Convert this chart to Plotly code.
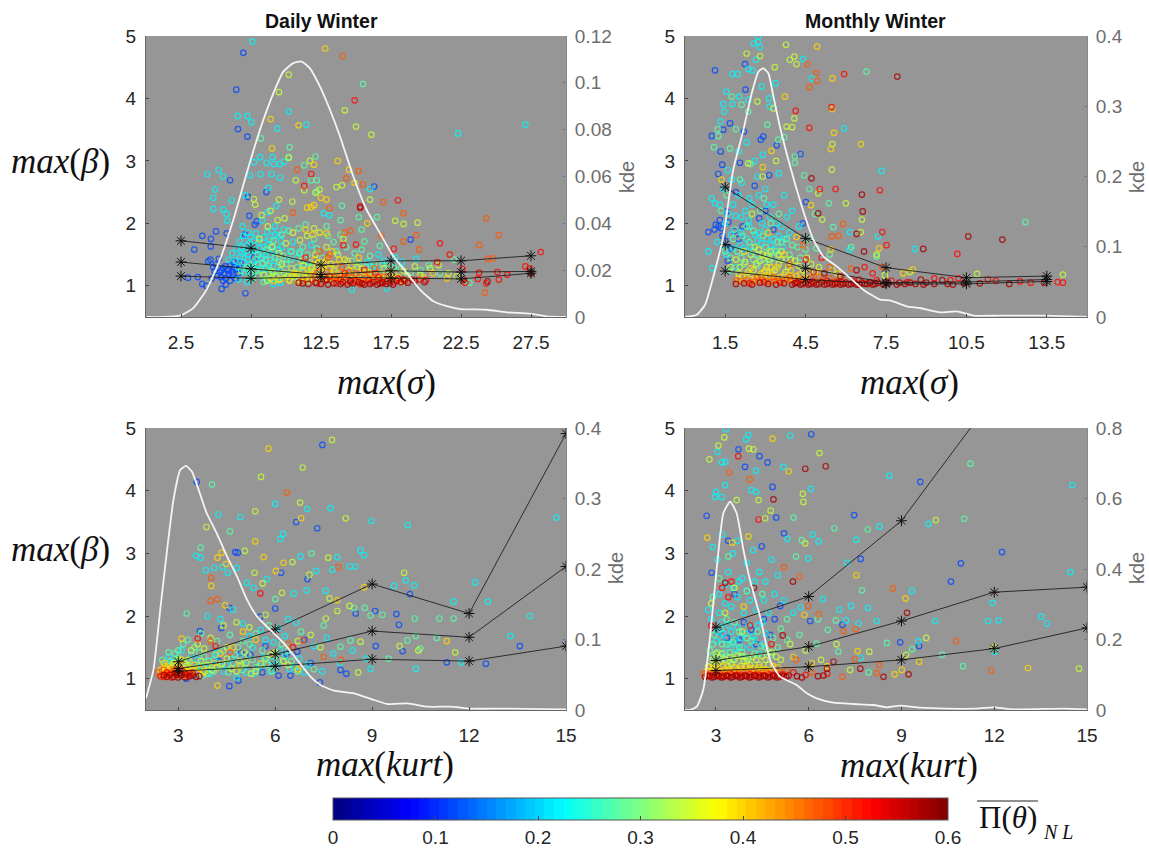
import plotly.graph_objects as go

W, H = 1149, 849
LEVELS = [0.12, 0.22, 0.28, 0.34, 0.40, 0.47, 0.52, 0.58]

# ---------- Panel 1: Daily Winter, max(sigma) ----------
P1_TICKS = [2.5, 7.5, 12.5, 17.5, 22.5, 27.5]
P1_UP = [1.72, 1.60, 1.33, 1.40, 1.40, 1.48]
P1_MID = [1.38, 1.27, 1.18, 1.24, 1.22, 1.23]
P1_LOW = [1.155, 1.12, 1.14, 1.12, 1.11, 1.20]
P1_KX = [0.05,1.24,2.43,3.38,4.33,5.29,6.24,7.19,8.14,9.1,9.81,10.52,11.12,11.71,12.43,13.14,13.86,14.81,15.76,16.71,17.67,18.62,19.57,20.52,21.48,22.43,24.33,25.76,27.43,28.62,30]
P1_KY = [0,0,.0006,.0038,.0117,.0245,.0415,.0614,.0799,.0956,.1048,.1084,.1091,.1062,.0984,.0885,.0771,.06,.0458,.0358,.0259,.0188,.0117,.0067,.0046,.0034,.0031,.002,.0014,.0003,0]
P1_C12 = [(6.95,4.73),(6.45,4.14),(6.57,3.51),(7.24,3.39),(6.0,2.69),(4.02,1.80),(5.0,1.87),(3.45,1.58),(4.64,1.75),(18.9,1.74),(16.3,2.59),(7.1,.88),(5.4,.95),(4.02,1.03),(4.45,1.39),(4.62,1.63),(5.76,1.84),(7.07,1.82),(7.78,1.98),(7.38,2.12),(3.0,1.13),(3.7,1.14),(4.8,1.3),(5.3,1.22),(5.6,1.2),(5.9,1.25),(6.2,1.18),(5.1,1.16),(5.7,1.12),(6.5,1.27),(6.0,1.08),(5.2,1.43),(7.7,1.45),(6.3,1.3),(5.8,1.26),(4.9,1.23),(5.5,1.28),(6.1,1.22),(5.4,1.25),(5.9,1.19),(6.6,1.2),(7.9,2.03),(8.6,2.5),(7.3,2.42),(4.3,1.0),(5.7,1.02),(4.7,1.12),(5.0,1.34),(5.35,1.14),(5.65,1.31),(6.05,1.33),(6.4,1.12),(6.75,1.36),(4.6,1.42),(5.5,1.08),(6.25,1.38)]
P1_C22 = [(7.6,4.91),(6.55,3.72),(7.24,3.72),(7.52,3.62),(10.2,3.79),(9.38,3.52),(11.45,3.58),(22.3,3.44),(27.1,3.58),(4.38,2.79),(5.19,2.85),(5.5,2.75),(4.93,2.54),(4.81,2.41),(4.81,2.23),(5.52,2.22),(5.76,2.15),(5.8,2.04),(6.12,2.37),(7.07,2.45),(7.43,2.77),(8.19,2.79),(8.97,2.79),(8.14,3.06),(7.71,2.98),(8.62,2.97),(9.05,3.06),(9.14,2.95),(9.57,2.95),(9.86,2.99),(8.74,2.57),(9.57,2.73),(14.7,.94),(17.2,.96),(16,2.55),(13.1,2.13),(12.7,2.16),(6.8,1.62),(7.1,1.55),(7.4,1.68),(7.7,1.72),(8.1,1.6),(8.4,1.77),(8.7,1.66),(9.0,1.88),(9.2,1.95),(9.5,1.8),(6.4,1.4),(6.7,1.47),(7.0,1.38),(7.3,1.5),(7.6,1.33),(7.9,1.42),(8.2,1.28),(8.5,1.48),(8.8,1.36),(9.1,1.55),(9.4,1.3),(9.7,1.62),(10.1,1.42),(10.5,1.7),(11,1.55),(7.0,1.22),(7.5,1.18),(6.6,1.1),(7.2,1.06),(8.6,1.1),(9.1,1.03),(9.6,1.05),(8.3,2.05),(8.7,2.18),(9.3,2.28),(6.9,1.95),(7.3,1.85),(17,1.4),(17.8,1.45),(18.3,1.38),(19.3,1.43),(16.2,1.3),
    (5.9,1.42),(6.15,1.52),(6.45,1.6),(6.7,1.72),(6.95,1.8),(7.2,1.64),(7.45,1.78),(7.65,1.57),(7.85,1.84),(8.05,1.7),(8.25,1.52),(8.45,1.62),(8.65,1.86),(8.85,1.74),(9.05,1.63),(9.25,1.82),(9.45,1.58),(9.65,1.72),(9.85,1.9),(8.0,1.34),(8.3,1.44),(8.6,1.28),(8.9,1.5),(9.2,1.4),(7.25,1.42),(7.55,1.28),(7.8,1.56),(6.55,1.3),(6.85,1.52),(7.15,1.28),(10.3,1.55),(10.8,1.45),(11.3,1.35),(11.8,1.65),(15.8,1.38),(16.6,1.5),(17.2,1.25)]
P1_C28 = [(8.2,3.36),(10.26,3.22),(11.3,2.93),(12.1,3.07),(10.2,3.06),(12.2,2.51),(11.8,2.69),(12.2,2.69),(15.5,4.23),(13.9,2.05),(14,2.28),(15.2,2.1),(15.4,1.9),(16.5,2.1),(15.6,1.71),(16.7,1.64),(22,1.42),(23.1,1.05),(13.9,1.82),(7.8,1.25),(8.3,1.36),(8.8,1.2),(9.2,1.45),(9.6,1.25),(10,1.35),(10.4,1.55),(10.8,1.3),(11.2,1.62),(11.6,1.38),(12,1.75),(12.4,1.85),(12.9,1.95),(13.4,1.7),(14.3,1.62),(14.9,1.52),(15.4,1.58),(16,1.48),(8.0,1.5),(8.6,1.58),(9.1,1.72),(9.7,1.82),(10.2,1.88),(7.2,1.3),(6.8,1.24),(7.6,1.1),(8.4,1.06),(10.9,1.92),(11.4,1.98),(17.4,1.32),(18.2,1.28),(18.9,1.2),(19.6,1.25),(20.2,1.33),(21,1.2),
    (7.4,1.2),(7.7,1.38),(8.0,1.16),(8.25,1.24),(8.55,1.42),(8.75,1.32),(9.0,1.24),(9.3,1.14),(9.5,1.38),(9.8,1.48),(10.05,1.2),(10.35,1.42),(10.65,1.14),(10.95,1.52),(11.25,1.22),(11.55,1.5),(11.85,1.3),(12.2,1.6),(12.6,1.45),(13,1.8),(13.6,1.55),(14.7,1.4),(15.2,1.35),(15.7,1.3),(16.3,1.35),(16.9,1.35),(17.7,1.3)]
P1_C34 = [(10.2,4.38),(9.5,4.1),(15,3.55),(16.1,3.42),(14.2,3.81),(11.7,3),(10.2,3.05),(10.7,2.69),(11.3,2.53),(12.1,2.49),(12.4,2.54),(10.45,2.35),(9.5,2.38),(7.7,2.39),(7.8,2.3),(8.26,2.13),(8.9,2.2),(9.9,2.08),(13.6,2.58),(14,2.61),(16,2.38),(17.8,2.04),(18.4,1.99),(19.4,2.01),(8.4,1.18),(8.9,1.12),(9.3,1.16),(9.7,1.35),(10.1,1.15),(10.4,1.28),(10.8,1.18),(11.1,1.4),(11.4,1.12),(11.8,1.28),(12.1,1.5),(12.5,1.22),(12.9,1.62),(13.2,1.35),(13.7,1.5),(14.1,1.75),(14.5,1.25),(9.0,1.62),(9.5,1.52),(10,1.68),(10.5,1.85),(11,1.73),(11.5,1.8),(12,1.92),(16.8,1.2),(17.4,1.18),(18,1.14),(18.7,1.16),(19.2,1.31),(20.3,1.28),(20.9,1.33),(21.6,1.2),(22.2,1.15),(8.1,1.75),(8.7,1.95),(9.4,2.05),
    (8.65,1.08),(9.05,1.22),(9.45,1.1),(9.85,1.2),(10.25,1.08),(10.55,1.2),(10.95,1.1),(11.25,1.32),(11.65,1.18),(12.0,1.1),(12.3,1.36),(12.7,1.28),(13.0,1.14),(13.45,1.24),(13.85,1.12),(14.2,1.42),(14.8,1.18),(15.1,1.3),(15.5,1.15),(15.9,1.22),(16.4,1.12),(17,1.28),(17.7,1.12),(18.4,1.24),(19.6,1.18)]
P1_C40 = [(12.8,4.8),(8.9,3.67),(10.9,3.57),(9,3.2),(12,2.94),(13.7,3),(14.5,2.86),(11.5,2.25),(11.8,2.26),(12,2.29),(12.5,2.41),(12.9,2.38),(14.9,2.65),(15.8,2),(10.2,1.1),(10.7,1.2),(11.2,1.25),(11.6,1.08),(11.9,1.18),(12.2,1.3),(12.5,1.38),(12.8,1.12),(13.1,1.28),(13.4,1.2),(13.8,1.42),(14,1.1),(14.4,1.4),(9.6,1.1),(9.1,1.08),(11.4,1.9),(12.4,1.85),(11.9,1.82),(12.9,1.84),(13.3,1.55),(15.2,1.45),(15.7,1.22),(16.4,1.18),(17.2,1.1),(18.3,1.08),(19.8,1.14),(21.5,1.12),(20.5,1.2),
    (10.45,1.16),(10.85,1.06),(11.35,1.14),(11.75,1.24),(12.05,1.42),(12.35,1.12),(12.65,1.32),(12.95,1.42),(13.25,1.12),(13.55,1.34),(13.95,1.22),(14.25,1.18),(14.65,1.32),(15,1.12),(15.4,1.28),(16.1,1.12),(16.8,1.14),(17.7,1.2)]
P1_C47 = [(14.05,4.68),(10.8,2.86),(15.2,2.84),(14.3,2.72),(15.5,2.62),(16.95,2.34),(10.5,2.17),(13.1,2.24),(18.4,2.16),(24.3,2.08),(25.2,1.81),(23.8,1.65),(24.8,1.44),(24.4,1.43),(24.2,.89),(18.4,1.71),(19.5,1.58),(19.3,1.81),(16.8,1.8),(11.9,1.1),(12.3,1.22),(12.7,1.15),(13,1.45),(13.3,1.08),(13.6,1.16),(14,1.3),(14.3,1.06),(14.7,1.13),(15,1.2),(15.4,1.08),(15.8,1.13),(16.3,1.28),(16.7,1.1),(17.3,1.23),(14.2,1.85),(14.6,1.88),(13.1,1.5),(12.4,1.55),
    (11.2,1.08),(12.05,1.16),(12.55,1.06),(12.9,1.22),(13.45,1.14),(13.8,1.07),(14.15,1.14),(14.5,1.22),(14.9,1.08),(15.25,1.14),(15.65,1.06),(16.0,1.18),(16.5,1.07),(17,1.14),(17.5,1.1),(18.1,1.1)]
P1_C52 = [(14.9,3.97),(11.8,2.79),(11.3,2.6),(15.3,2.27),(18,2.37),(21,1.68),(21.7,1.5),(28.2,1.54),(27.1,1.31),(27.4,1.28),(25.2,1.1),(24.3,1.04),(23.7,1.11),(25.8,1.18),(25.1,1.22),(23.8,1.21),(22.8,1.05),(22.6,1.27),(20.8,1.38),(20,1.09),(19.5,1.1),(17.7,1.59),(14.1,1.65),(15,1.66),(13.6,1.04),(14.6,1.05),(15.3,1.03),(16.1,1.05),(16.9,1.04),(17.7,1.06),(18.5,1.08),(19,1.1),(16.4,1.2),(13.1,1.15),(14.2,1.2),(15.6,1.25),(11.4,1.45),(12.2,1.04),(12.8,1.08),(13.9,1.1),(15.0,1.07),(15.9,1.09),(16.6,1.14),(17.2,1.07),(18.0,1.12)]
P1_C58 = [(15.3,2.25),(11.2,1.04),(11.6,1.03),(12.1,1.05),(12.5,1.03),(13,1.02),(13.4,1.04),(13.9,1.03),(14.4,1.02),(14.8,1.04),(15.2,1.06),(15.6,1.02),(16,1.03),(16.5,1.02),(16.9,1.06),(17.4,1.04),(17.9,1.08),(18.4,1.1),(19.2,1.08),(19.9,1.06),(22.7,1.1),(27.5,1.2),(24.4,1.07),(10.9,1.05),(12.9,1.1),(14.05,1.06),(14.6,1.08),(15.45,1.04),(16.25,1.06),(16.7,1.04),(17.15,1.03),(17.65,1.02),(18.2,1.06),(18.7,1.05)]

# ---------- Panel 2: Monthly Winter, max(sigma) ----------
P2_TICKS = [1.5, 4.5, 7.5, 10.5, 13.5]
P2_UP = [2.58, 1.76, 1.29, 1.13, 1.155]
P2_MID = [1.66, 1.28, 1.05, 1.06, 1.10]
P2_LOW = [1.235, 1.10, 1.03, 1.03, 1.07]
P2_KX = [0,.44,.75,1.06,1.43,1.80,2.18,2.49,2.74,2.92,3.11,3.30,3.54,3.79,4.10,4.48,4.79,5.16,5.66,6.16,6.65,7.28,7.65,8.27,8.77,9.52,10.14,10.76,11.75,13.5,15]
P2_KY = [0,.0033,.0175,.0578,.1147,.2095,.2664,.3185,.3493,.354,.347,.3138,.2711,.2332,.1905,.1431,.11,.0863,.072,.0555,.0389,.0246,.0237,.0152,.0128,.0066,.0081,.0019,.0019,.0019,0]
P2_C12 = [(1.0,3.4),(2.24,4.55),(2.26,4.14),(2.2,3.47),(1.43,3.5),(1.33,3.15),(1.39,2.94),(1.24,2.79),(.87,1.86),(2.83,3.34),(2.92,3.39),(3.42,3.25),(4.31,3.11),(3.14,2.77),(4.51,2.34),(2.77,2.08),(1.68,3.6),(2.05,2.97),(1.12,4.45),(1.25,1.95),(1.55,2.19),(1.1,1.9),(1.4,1.8),(1.3,2.05),(1.7,1.6),(2,1.75),(1.6,1.4),(4.4,2.0),(3.3,1.9),(1.9,2.5),(3,2.2),(2.6,2.6),(1.15,1.98),(1.35,1.92),(1.5,1.72),(1.62,2.02),(1.85,1.88),(2.15,1.95)]
P2_C22 = [(2.73,4.99),(2.57,4.88),(2.73,4.9),(2.8,4.82),(2.65,4.62),(2.36,4.47),(2.52,4.45),(1.77,4.39),(1.96,4.39),(1.54,4.11),(2.02,4.03),(2.36,3.98),(1.43,3.91),(1.77,3.91),(1.46,3.79),(1.33,3.63),(4.41,4.63),(4.74,4.32),(5.94,3.52),(2.86,4.19),(3.38,4.24),(3.14,4),(3.17,3.87),(7.34,2.84),(8.58,1.59),(7.2,1.79),(6.15,1.86),(6.15,1.58),(.87,1.55),(1.02,1.28),(.99,2.4),(1.12,2.32),(1.2,1.7),(1.5,2.0),(1.8,2.3),(2.1,2.1),(2.4,2.4),(2.7,2.75),(3,2.55),(3.3,2.3),(2.1,1.85),(2.4,1.95),(2.7,1.72),(3,1.9),(1.6,2.85),(2,3.15),(2.3,3.3),(2.6,3),(2.9,3.1),(3.7,2.45),(3.5,2.8),(2.55,1.55),(2.2,1.6),(1.9,1.3),(2.75,1.85),(3.2,1.65),(3.5,1.8),(3.8,2.1),(1.45,2.55),(1.75,2.7),(4,2.2),(4.25,1.95),
    (1.3,2.3),(1.45,1.65),(1.6,2.15),(1.72,1.82),(1.88,2.12),(2.0,2.45),(2.12,2.65),(2.25,2.2),(2.38,2.05),(2.5,2.3),(2.62,1.82),(2.75,2.45),(2.88,2.0),(3.05,2.3),(3.18,2.1),(3.3,1.75),(3.42,2.0),(3.6,1.95),(3.72,1.75),(3.9,1.85),(1.55,1.5),(1.8,1.6),(2.05,1.65),(2.3,1.75),(2.45,1.62),(2.85,1.68),(3.05,1.75),(3.35,1.58),(3.65,1.62)]
P2_C28 = [(6.77,4.43),(1.74,4.03),(2.11,3.9),(2.36,3.79),(1.22,3.51),(1.24,3.4),(1.08,3.22),(1.68,3.2),(1.9,3.51),(3.07,3.58),(3.48,3.34),(3.7,3.38),(4.1,3.07),(4.1,2.97),(4.45,2.77),(4.64,2.55),(5.37,2.32),(4.85,2.15),(12.7,2.02),(7.15,1.47),(5.53,1.94),(1.5,1.55),(1.8,1.75),(2.1,1.45),(2.4,1.7),(2.7,1.5),(3,1.62),(3.3,1.45),(3.6,1.7),(3.9,1.5),(4.2,1.62),(1.65,1.25),(2.3,1.95),(2.8,2.2),(3.2,2.0),(3.5,2.15),(1.35,2.2),(1.55,2.45),(2.05,2.7),(2.45,2.95),(2.95,2.4),(4.6,1.75),(4.9,1.6),(5.4,1.5),(6.2,1.62),
    (1.7,1.45),(1.95,1.55),(2.2,1.35),(2.55,1.42),(2.7,1.32),(2.9,1.42),(3.15,1.38),(3.4,1.55),(3.75,1.42),(4.0,1.65),(4.3,1.45),(4.5,1.58),(1.85,1.9),(2.15,1.8),(2.55,1.88),(2.9,1.8),(3.1,1.52),(3.45,1.7),(3.8,1.75)]
P2_C34 = [(2.3,4.72),(3.77,4.86),(4.08,4.67),(3.91,4.62),(4.16,4.55),(3.35,4.5),(2.8,4.68),(2.7,3.95),(4.08,3.68),(3.79,3.55),(4,3.54),(3.3,3.84),(2.36,2.96),(5.5,3.27),(5.48,2.86),(4.97,2.48),(6,2.32),(6.6,2.06),(6.56,1.86),(5.12,2.06),(7.15,1.5),(7.46,1.17),(8.4,1.22),(14.1,1.18),(10.9,1.19),(1.7,1.3),(2,1.2),(2.25,1.38),(2.55,1.25),(2.8,1.4),(3.05,1.3),(3.35,1.25),(3.6,1.42),(3.85,1.3),(4.1,1.4),(4.4,1.25),(4.7,1.35),(2.2,1.55),(2.6,1.62),(2.9,1.5),(3.2,1.55),(3.5,1.5),(5.0,1.3),(5.5,1.25),(2.5,2.15),(2.9,2.75),(3.4,3.0),
    (1.9,1.42),(2.05,1.3),(2.35,1.22),(2.45,1.5),(2.65,1.35),(2.95,1.22),(3.15,1.42),(3.25,1.22),(3.5,1.35),(3.75,1.22),(3.95,1.42),(4.25,1.32),(4.55,1.45),(4.85,1.22),(2.75,1.58),(3.05,1.48),(3.6,1.55)]
P2_C40 = [(4.93,4.83),(5.5,4.32),(5.49,3.83),(3.73,4.03),(5.56,3.45),(5.44,3.19),(6.56,3.27),(3.23,3.16),(1.36,2.7),(4.7,2.29),(4.16,1.78),(5.44,1.58),(7.24,1.6),(8.5,1.26),(8.14,1.2),(2,1.12),(2.3,1.18),(2.6,1.12),(2.85,1.2),(3.1,1.15),(3.4,1.1),(3.7,1.18),(4,1.13),(4.3,1.18),(4.6,1.2),(5,1.22),(5.7,1.2),(3.2,1.3),(3.7,1.5),(2.9,2.9),(3.1,1.85),(2.15,1.15),(2.45,1.1),(2.75,1.15),(2.95,1.12),(3.25,1.18),(3.55,1.14),(3.85,1.1),(4.15,1.16),(4.45,1.12),(2.45,1.28),(3,1.25),(3.45,1.3),(3.95,1.25)]
P2_C47 = [(4.57,4.55),(4.9,4.41),(4.93,4.28),(4.64,4.18),(5.9,1.99),(5.47,1.79),(5.72,1.8),(7.36,1.3),(6.2,1.28),(5.4,1.3),(1.9,1.08),(2.3,1.09),(2.6,1.06),(2.9,1.1),(3.2,1.06),(3.5,1.08),(3.8,1.1),(4.1,1.07),(4.4,1.1),(4.7,1.12),(5,1.14),(5.4,1.12),(5.9,1.1),(4.4,1.65),(3.9,1.35),(2.1,1.07),(2.45,1.06),(2.75,1.08),(3.05,1.07),(3.35,1.08),(3.65,1.07),(3.95,1.09),(4.25,1.08),(4.55,1.06),(4.85,1.08),(5.15,1.09),(5.65,1.08),(2.7,1.14),(3.3,1.14),(3.9,1.14)]
P2_C52 = [(5.94,4.39),(4.13,3.8),(4.64,3.53),(5.47,3.86),(5.62,2.55),(7.27,2.53),(7.52,1.65),(7.36,1.86),(10.16,1.51),(5.03,2.55),(6.7,1.3),(7,1.2),(7.7,1.08),(8.3,1.06),(9.3,1.12),(9.9,1.09),(10.2,1.12),(11.3,1.1),(11.6,1.08),(12.5,1.07),(12.9,1.05),(13.9,1.06),(14.1,1.05),(5.6,1.05),(6.3,1.08),(6.9,1.06),(4.8,1.22),(4.5,1.42),(5.1,1.45),(2.4,1.04),(2.95,1.06),(3.55,1.05),(4.15,1.05),(4.75,1.07),(5.3,1.08),(5.85,1.06),(6.5,1.1),(7.15,1.09)]
P2_C58 = [(7.92,4.35),(6.6,2.46),(6.63,2.19),(6.4,1.83),(4.72,2.72),(4.97,2.16),(10.57,1.79),(11.84,1.74),(8.89,1.59),(6.68,1.55),(1.9,1.03),(2.2,1.04),(2.5,1.02),(2.8,1.05),(3.1,1.03),(3.4,1.02),(3.7,1.04),(4,1.02),(4.2,1.05),(4.4,1.03),(4.6,1.02),(4.8,1.05),(5,1.03),(5.2,1.02),(5.4,1.05),(5.6,1.03),(5.8,1.02),(6,1.05),(6.2,1.03),(6.4,1.02),(6.6,1.05),(6.8,1.03),(7,1.02),(7.2,1.05),(7.4,1.02),(7.6,1.04),(7.9,1.02),(8.2,1.03),(8.6,1.03),(8.9,1.02),(9.3,1.03),(9.6,1.09),(10,1.02),(10.4,1.04),(11,1.04),(12.1,1.03),(13.4,1.05),(5.2,1.2),(5.8,1.15),(6.4,1.25),(8.8,1.1),(4.1,1.04),(4.3,1.02),(4.5,1.05),(4.7,1.03),(4.9,1.02),(5.1,1.06),(5.3,1.03),(5.5,1.02),(5.7,1.05),(5.9,1.03),(6.1,1.02),(6.3,1.05),(6.5,1.02),(6.7,1.03),(6.9,1.05),(7.1,1.03),(7.5,1.06),(8.0,1.05),(8.4,1.05),(9.0,1.05),(9.8,1.03)]

# ---------- Panel 3: Daily Winter, max(kurt) ----------
P3_TICKS = [3, 6, 9, 12, 15]
P3_UP = [1.27, 1.79, 2.51, 2.04, 4.91]
P3_MID = [1.16, 1.39, 1.76, 1.66, 2.79]
P3_LOW = [1.12, 1.20, 1.31, 1.28, 1.52]
P3_KX = [2.0,2.23,2.44,2.64,2.85,3.06,3.24,3.42,3.63,3.88,4.19,4.51,4.82,5.13,5.44,5.85,6.27,6.68,7.09,7.4,7.82,8.44,9.06,9.47,10.1,10.72,11.44,12.06,13.2,15]
P3_KY = [.0166,.0568,.1419,.2223,.298,.3406,.3462,.3382,.3122,.2791,.2507,.2176,.1892,.1561,.1324,.1135,.0946,.071,.0473,.0355,.0274,.0237,.0142,.0085,.0095,.0047,.0047,.0019,.0019,.001]
P3_C12 = [(7.46,4.73),(3.57,4.14),(6.65,3.5),(7.3,3.4),(4.84,3.01),(4.76,3.02),(6.18,2.69),(7,2.59),(10.17,2.35),(4.58,2.13),(9.75,2.03),(8.49,2.04),(9.83,1.86),(4.33,1.81),(3.67,1.76),(9.11,1.52),(9.94,1.44),(13.57,1.52),(12.52,1.24),(11.31,1.26),(8.2,1.08),(8.02,1.14),(6.47,1.05),(4.86,.97),(4.58,.88),(7.38,.94),(5.23,1.38),(6.68,1.43),(5.54,1.99),(6,2.12),(9.09,2.08),(3.25,1.0),(6.1,1.05),(7.1,1.25),(5.6,1.1),(4.95,1.42),(5.7,1.52),(6.35,1.4),(6.9,1.62),(4.25,1.28)]
P3_C22 = [(14.7,3.57),(10.1,3.45),(8.98,3.52),(7.71,3.72),(6.99,3.71),(6,3.79),(4.92,3.58),(4.24,3.62),(6.16,3.23),(6.24,3.31),(3.55,2.96),(3.69,2.93),(3.85,2.73),(4.11,2.77),(4.37,2.78),(4.81,2.77),(4.53,2.69),(6.78,2.95),(7.92,2.94),(8.31,2.79),(8.48,2.79),(7.77,2.74),(7.27,2.72),(8.64,3.05),(8.75,2.97),(5.74,2.59),(5.33,2.45),(5.12,2.53),(6.57,2.36),(6.97,2.41),(7.56,2.4),(10.04,2.57),(10.3,2.49),(9.68,2.48),(12.19,2.54),(12.58,2.23),(11.52,2.23),(13.89,2.0),(13.28,1.68),(10.35,1.16),(11.75,1.26),(8.95,1.16),(2.8,1.25),(3.1,1.02),(3.5,1.05),(4,1.08),(4.4,1.12),(4.8,1.02),(5.1,1.1),(5.5,1.2),(5.9,1.28),(6.3,1.35),(6.6,1.18),(6.9,1.1),(7.2,1.52),(7.6,1.65),(8,1.25),(8.4,1.45),(8.8,1.32),(5.7,1.62),(6.1,1.8),(6.4,1.95),(4.5,1.22),(4.9,1.35),(5.3,1.5),(4.1,1.3),(3.7,1.2),(3.4,1.38),(3.1,1.45),(4.3,1.95),(4.7,2.1),(5,1.88),(3.9,2.0),
    (3.6,1.3),(3.95,1.18),(4.2,1.42),(4.65,1.32),(5.05,1.22),(5.35,1.08),(5.65,1.34),(5.85,1.12),(6.05,1.22),(6.15,1.45),(6.45,1.15),(6.75,1.32),(7.0,1.22),(7.45,1.12),(7.8,1.4),(5.2,1.68),(5.55,1.78),(5.95,1.58),(6.3,1.68),(6.65,1.9),(3.3,1.18),(2.95,1.32),(2.7,1.35)]
P3_C28 = [(4.04,4.1),(7.12,3),(4.6,3.35),(3.69,3.09),(3.26,2.04),(6,2.27),(8.44,2.13),(8.77,2.13),(8.95,2.01),(9.32,2.02),(10.32,1.96),(11.08,1.96),(11.52,1.96),(11,1.65),(10.35,1.68),(10.09,1.61),(10.49,1.48),(9.51,1.32),(8.33,1.61),(8.02,1.51),(2.5,1.3),(2.9,1.4),(3.2,1.25),(3.5,1.5),(3.8,1.35),(4.1,1.12),(4.4,1.45),(4.7,1.25),(5,1.14),(5.3,1.3),(5.6,1.45),(5.9,1.12),(6.2,1.55),(6.5,1.28),(6.8,1.75),(7.2,1.15),(7.5,1.85),(3.3,1.62),(3.7,1.72),(4.2,1.6),(4.6,1.7),(5,1.6),(5.4,1.72),(5.8,1.85),(3.9,1.08),(3.4,1.12),
    (2.75,1.28),(3.05,1.32),(3.35,1.28),(3.55,1.18),(3.75,1.05),(3.95,1.28),(4.15,1.38),(4.3,1.2),(4.55,1.1),(4.75,1.38),(4.95,1.22),(5.15,1.38),(5.4,1.18),(5.75,1.22),(6.1,1.3),(6.4,1.45),(6.7,1.12),(3.65,1.42),(3.0,1.45),(2.7,1.42),(3.15,1.55),(4.85,1.5),(5.2,1.55)]
P3_C34 = [(5.56,4.22),(6.85,4.37),(7.76,4.81),(6.77,3.81),(5.38,3.67),(8.18,3.56),(3.87,3.42),(5.06,3.04),(7.64,2.93),(6.53,2.86),(7.06,2.66),(5.36,2.69),(5.61,2.52),(6.21,2.37),(9.99,2.69),(7.68,2.28),(8.3,2.16),(7.92,2.08),(7.57,1.96),(8.64,1.59),(9.85,1.52),(10.43,1.45),(11.57,1.42),(8.57,1.1),(2.6,1.15),(2.9,1.2),(3.3,1.3),(3.6,1.1),(3.9,1.22),(4.2,1.18),(4.5,1.32),(4.8,1.12),(5.1,1.25),(5.4,1.12),(5.7,1.32),(6,1.42),(6.4,1.22),(6.7,1.6),(7.1,1.7),(7.4,1.5),(3.6,1.55),(4,1.65),(4.4,1.85),(4.8,1.9),(5.2,1.82),(5.7,2.02),(3.2,1.05),
    (2.85,1.25),(3.1,1.12),(3.25,1.2),(3.45,1.15),(3.7,1.28),(3.8,1.1),(4.05,1.14),(4.35,1.24),(4.65,1.16),(4.9,1.28),(5.25,1.08),(5.55,1.24),(5.85,1.38),(6.25,1.28),(3.4,1.45),(3.8,1.48),(4.5,1.5),(5.05,1.42),(3.0,1.3)]
P3_C40 = [(5.79,4.67),(6.8,3.56),(5.38,3.19),(5.64,2.94),(4.34,3.01),(4.21,2.93),(6.26,2.85),(6.02,2.72),(4.48,2.83),(4.02,2.48),(4.45,2.17),(3.1,1.64),(7.92,2.25),(11.31,1.6),(8.75,2.46),(4.21,.89),(2.5,1.08),(2.6,1.2),(2.75,1.13),(2.85,1.22),(3,1.16),(3.15,1.1),(3.3,1.18),(3.5,1.22),(3.8,1.12),(4.3,1.4),(4.7,1.5),(5,1.75),(5.4,1.62),(6.7,1.15),(2.7,1.05),(4.9,1.2),(2.45,1.14),(2.55,1.25),(2.65,1.16),(2.8,1.18),(2.9,1.12),(3.05,1.22),(3.2,1.14),(3.4,1.12),(3.65,1.16),(4.1,1.25),(2.95,1.05),(3.1,1.3)]
P3_C47 = [(6.36,3.97),(4.02,2.61),(4.21,2.27),(7.95,2.78),(4,2.24),(6.85,1.61),(7.5,1.35),(8.04,1.3),(2.35,1.1),(2.55,1.14),(2.75,1.08),(2.95,1.1),(3.1,1.14),(3.3,1.06),(4,1.6),(4.6,1.42),(6.4,1.55),(2.5,1.06),(2.65,1.09),(2.85,1.15),(3.05,1.17),(3.2,1.08),(3.45,1.1)]
P3_C52 = [(5.54,2.36),(3.6,1.64),(6.55,1.5),(2.55,1.03),(2.8,1.02),(3.05,1.05),(3.25,1.03),(3.45,1.08),(2.65,1.1),(2.9,1.13),(4.15,1.52),(2.45,1.04),(2.7,1.06),(2.95,1.08),(3.15,1.11),(3.35,1.09)]
P3_C58 = [(2.65,1.03),(2.85,1.03),(2.95,1.06),(3.05,1.09),(3.2,1.02),(3.35,1.04),(3.55,1.03),(3.0,1.02),(2.75,1.06),(2.55,1.06),(2.9,1.09),(3.1,1.06),(3.25,1.07),(3.45,1.05),(3.65,1.04)]

# ---------- Panel 4: Monthly Winter, max(kurt) ----------
P4_TICKS = [3, 6, 9, 12, 15]
P4_UP = [1.82, 2.31, 3.52, 5.5, 7.5]
P4_MID = [1.29, 1.51, 1.92, 2.38, 2.46]
P4_LOW = [1.13, 1.19, 1.30, 1.48, 1.81]
P4_KX = [2,2.16,2.38,2.59,2.81,3.02,3.24,3.46,3.67,3.89,4.10,4.43,4.75,5.07,5.61,5.94,6.26,6.80,7.45,8.09,8.53,8.96,9.60,10.47,11.33,11.98,12.62,14.24,15]
P4_KY = [0,0,.0095,.0568,.2081,.3973,.5581,.5913,.5581,.4541,.3689,.2649,.1419,.0946,.0709,.0473,.0331,.0208,.017,.0142,.0076,.0123,.0066,.0038,.0038,.0076,.0019,.0038,.0019]
P4_C12 = [(6.08,4.9),(3.73,4.66),(4.41,4.55),(4.67,4.45),(3.94,4.38),(4.83,4.06),(2.7,3.6),(4.95,3.57),(7.47,3.61),(9.61,4.14),(7.68,2.91),(12.25,3.02),(10.92,2.84),(10.6,2.55),(8.96,1.58),(9.57,1.52),(7.09,1.86),(5.08,2.16),(6.05,1.92),(5.2,3.32),(4.48,3.11),(2.86,2.69),(3.6,2.35),(3.9,1.9),(4.3,1.55),(3.1,1.75),(4.9,1.95),(3.4,3.2),(3.75,1.62),(4.15,1.78),(4.55,1.95),(4.75,1.7),(3.35,1.65)]
P4_C22 = [(3.32,4.98),(5.4,4.88),(4.05,4.89),(3.97,4.82),(3.05,4.62),(3.19,4.45),(3.3,4.46),(4.3,4.32),(5.18,4.38),(8.61,4.24),(14.52,4.09),(3.3,4.09),(3,3.98),(2.97,3.9),(4.14,4.01),(4.3,3.98),(3.19,3.9),(6.07,4.03),(9.88,3.47),(8.29,3.43),(6.13,3.3),(6.32,3.19),(5.31,3.23),(7.54,3.22),(5.99,2.92),(7.23,2.85),(9.34,2.4),(11.95,2.21),(14.46,2.7),(13.52,1.99),(13.71,1.88),(11.8,1.92),(12.14,1.93),(10.09,1.92),(8.2,1.92),(7.61,1.88),(7.21,1.93),(7.91,2.13),(7.37,2.16),(6.99,2.1),(6.46,2.27),(5.74,2.14),(9.55,1.6),(12.01,1.43),(7.67,1.33),(2.9,3.1),(3.05,2.9),(3.2,3.3),(3.4,2.7),(3.55,3),(3.7,3.2),(3.85,2.6),(4,2.85),(4.2,3.05),(4.4,2.7),(4.6,2.55),(4.8,2.9),(5,2.65),(3.1,2.35),(3.3,2.5),(3.5,2.15),(3.7,2.3),(3.9,2.05),(4.1,2.25),(4.3,2.1),(4.5,1.9),(4.7,2.05),(5.2,2.25),(5.5,2.05),(3.2,1.9),(3.5,1.75),(3.8,1.65),(4.1,1.5),(4.4,1.4),(2.85,1.95),(2.75,2.1),(3,1.6),(3.3,1.42),
    (3.05,1.75),(3.25,1.72),(3.4,1.85),(3.6,1.62),(3.7,1.82),(3.95,1.72),(4.05,1.85),(4.2,1.68),(4.35,1.85),(4.6,1.72),(3.1,2.05),(3.3,2.2),(3.55,2.45),(3.75,2.55),(4.0,2.4),(4.25,2.55),(4.55,2.25),(4.9,2.35),(3.45,1.55),(3.65,1.48),(3.85,1.5),(4.25,1.62),(4.55,1.55),(3.2,1.62)]
P4_C28 = [(11.23,4.43),(11.03,3.55),(6.83,3.4),(7.91,3.38),(5.51,3.57),(5.78,3.21),(5.59,2.95),(7.72,2.41),(6.62,1.78),(6.88,1.93),(8.53,1.57),(9.34,1.47),(10.31,1.38),(10.99,1.2),(7.94,1.1),(6.96,1.43),(6.26,1.56),(2.8,1.45),(2.95,1.7),(3.15,1.35),(3.35,1.55),(3.55,1.3),(3.75,1.5),(3.95,1.35),(4.15,1.6),(4.35,1.75),(4.6,1.5),(4.85,1.65),(5.1,1.8),(2.9,2.3),(3.1,2.6),(3.4,2.95),(3.6,1.9),(4,2.4),(4.5,2.35),(5.3,1.95),(5.7,1.7),(6.3,1.95),(3.2,1.55),
    (2.9,1.55),(3.05,1.42),(3.25,1.32),(3.45,1.42),(3.65,1.38),(3.85,1.42),(4.05,1.32),(4.25,1.4),(4.45,1.52),(4.7,1.42),(3.55,1.58),(3.75,1.75),(4.0,1.65),(3.15,1.8),(3.35,1.95),(2.85,1.35),(4.8,1.38),(5.0,1.5),(5.3,1.62)]
P4_C34 = [(3.27,4.85),(3.08,4.72),(2.79,4.5),(4.07,4.67),(4.21,4.66),(6.35,4.6),(5.81,3.95),(5.83,3.82),(5.89,3.16),(10.11,3.53),(9.8,1.65),(9.15,1.38),(7.96,1.43),(7.34,1.14),(14.74,1.16),(11.98,1.5),(4.77,3.68),(4.59,3.56),(4.38,3.85),(3.67,3.85),(2.75,1.2),(2.9,1.3),(3.05,1.22),(3.2,1.4),(3.4,1.2),(3.6,1.3),(3.8,1.2),(4,1.28),(4.2,1.35),(4.4,1.22),(4.6,1.3),(4.8,1.42),(5.1,1.3),(5.4,1.55),(5.9,1.45),(6.4,1.3),(6.9,1.55),(3.3,2.05),(3.6,2.45),(3.85,1.75),(2.85,2.2),
    (2.95,1.2),(3.15,1.27),(3.3,1.3),(3.5,1.23),(3.7,1.36),(3.9,1.28),(4.1,1.22),(4.3,1.3),(4.5,1.36),(4.7,1.22),(4.95,1.35),(3.0,1.4),(3.45,1.34),(3.85,1.36)]
P4_C40 = [(4.83,4.83),(5.35,4.31),(2.72,3.25),(4.05,3.27),(3.53,3.17),(7.54,2.65),(9.13,2.28),(13.09,1.17),(9.57,1.27),(8.78,1.07),(9.01,1.14),(7.58,1.44),(5.86,2.02),(2.7,1.12),(2.9,1.15),(3.1,1.12),(3.3,1.15),(3.5,1.12),(3.7,1.15),(3.9,1.12),(4.1,1.16),(4.3,1.13),(4.5,1.15),(4.7,1.1),(5,1.18),(5.5,1.35),(6.1,1.25),(6.6,1.2),(3.9,2.15),(2.8,1.18),(3.0,1.17),(3.2,1.2),(3.4,1.14),(3.6,1.18),(3.8,1.16),(4.0,1.2),(4.2,1.17),(4.4,1.18),(4.6,1.14),(4.85,1.2)]
P4_C47 = [(3.43,4.29),(4.09,4.18),(5.2,2.78),(8.72,2.44),(10.77,1.6),(6.32,2.03),(5.98,2.16),(5.7,2.63),(7.13,1.76),(7.52,1.79),(11.9,1.13),(7.5,1.31),(8.28,1.22),(8.2,1.09),(7.09,1.03),(5.6,1.3),(6.1,1.1),(2.6,1.08),(2.85,1.08),(3.15,1.07),(3.45,1.09),(3.75,1.08),(4.05,1.09),(4.35,1.08),(4.65,1.1),(4.95,1.12),(5.3,1.14),(2.7,1.09),(3.0,1.1),(3.3,1.08),(3.6,1.1),(3.9,1.09),(4.2,1.1),(4.5,1.09),(4.8,1.08),(5.1,1.1)]
P4_C52 = [(3.72,4.55),(4.38,3.54),(3.2,2.45),(3.5,2.55),(3.4,2.3),(2.85,1.85),(4.1,1.85),(4.8,1.55),(5.5,1.1),(5.9,1.06),(6.6,1.08),(2.75,1.05),(3.05,1.06),(3.35,1.05),(3.65,1.06),(3.95,1.05),(4.25,1.06),(4.55,1.05),(4.85,1.06),(5.15,1.07),(2.9,1.06),(3.2,1.05),(3.5,1.07),(3.8,1.06),(4.1,1.07),(4.4,1.06),(4.7,1.07),(5.0,1.05)]
P4_C58 = [(5.89,4.35),(6.55,4.39),(4.86,3.86),(9.18,2.05),(5.49,2.55),(5.16,1.69),(9.23,1.07),(8.42,1.03),(7.67,1.16),(6.8,1.27),(6.59,1.16),(6.3,1.04),(6.48,1.05),(5.62,1.04),(5.78,1.02),(4.23,2.45),(3.3,2.53),(2.65,1.03),(2.8,1.04),(2.95,1.03),(3.1,1.04),(3.25,1.03),(3.4,1.04),(3.55,1.03),(3.7,1.04),(3.85,1.03),(4,1.04),(4.15,1.03),(4.3,1.04),(4.45,1.03),(4.6,1.04),(4.75,1.03),(4.9,1.04),(5.05,1.03),(5.2,1.04),(5.35,1.05),(2.72,1.05),(2.88,1.02),(3.02,1.05),(3.18,1.02),(3.33,1.05),(3.48,1.02),(3.63,1.05),(3.78,1.02),(3.93,1.05),(4.08,1.02),(4.23,1.05),(4.38,1.02),(4.53,1.05),(4.68,1.02),(4.83,1.05),(4.98,1.02),(5.13,1.05),(5.28,1.03)]

P1_SERIES = [P1_C12, P1_C22, P1_C28, P1_C34, P1_C40, P1_C47, P1_C52, P1_C58]
P2_SERIES = [P2_C12, P2_C22, P2_C28, P2_C34, P2_C40, P2_C47, P2_C52, P2_C58]
P3_SERIES = [P3_C12, P3_C22, P3_C28, P3_C34, P3_C40, P3_C47, P3_C52, P3_C58]
P4_SERIES = [P4_C12, P4_C22, P4_C28, P4_C34, P4_C40, P4_C47, P4_C52, P4_C58]


def jet(t):
    def ch(v):
        return int(round(255 * max(0.0, min(1.0, v))))
    return "rgb(%d,%d,%d)" % (ch(1.5 - abs(4 * t - 3)), ch(1.5 - abs(4 * t - 2)), ch(1.5 - abs(4 * t - 1)))


N = 64
COLORSCALE = []
for i in range(N):
    col = jet((i + 0.5) / N)
    COLORSCALE += [[i / N, col], [(i + 1) / N, col]]

BG = "#969696"
DARK = "#262626"
GREY = "#6e6e6e"
SANS = "Liberation Sans, Arial, sans-serif"
SERIF = "Liberation Serif, serif"
TICK = 19


def px(x):
    return x / W


def py(y):
    return 1 - y / H


PANELS = [
    dict(s=P1_SERIES, t=P1_TICKS, up=P1_UP, mid=P1_MID, low=P1_LOW, kx=P1_KX, ky=P1_KY,
         xr=[0, 30], yr2=[0, 0.12], y2t=[0, .02, .04, .06, .08, .1, .12], box=(146, 566, 36, 317), fmt="%.1f"),
    dict(s=P2_SERIES, t=P2_TICKS, up=P2_UP, mid=P2_MID, low=P2_LOW, kx=P2_KX, ky=P2_KY,
         xr=[0, 15], yr2=[0, 0.4], y2t=[0, .1, .2, .3, .4], box=(685, 1087, 36, 317), fmt="%.1f"),
    dict(s=P3_SERIES, t=P3_TICKS, up=P3_UP, mid=P3_MID, low=P3_LOW, kx=P3_KX, ky=P3_KY,
         xr=[2, 15], yr2=[0, 0.4], y2t=[0, .1, .2, .3, .4], box=(146, 566, 428, 710), fmt="%d"),
    dict(s=P4_SERIES, t=P4_TICKS, up=P4_UP, mid=P4_MID, low=P4_LOW, kx=P4_KX, ky=P4_KY,
         xr=[2, 15], yr2=[0, 0.8], y2t=[0, .2, .4, .6, .8], box=(685, 1087, 428, 710), fmt="%d"),
]

fig = go.Figure()
layout = dict(
    width=W, height=H, autosize=False, margin=dict(l=0, r=0, t=0, b=0, autoexpand=False),
    paper_bgcolor="white", plot_bgcolor=BG, showlegend=False,
    coloraxis=dict(
        cmin=0, cmax=0.6, colorscale=COLORSCALE,
        colorbar=dict(
            orientation="h", x=px(333), y=py(798), xanchor="left", yanchor="top",
            xref="paper", yref="paper",
            lenmode="pixels", len=615, thicknessmode="pixels", thickness=22,
            xpad=0, ypad=0, outlinecolor="#555555", outlinewidth=1, borderwidth=0,
            ticks="inside", ticklen=4, tickcolor="#444444", tickwidth=1,
            tickvals=[0, .1, .2, .3, .4, .5, .6], ticktext=["0", "0.1", "0.2", "0.3", "0.4", "0.5", "0.6"],
            tickfont=dict(family=SANS, size=TICK, color=DARK),
        ),
    ),
)

for k, p in enumerate(PANELS):
    xa = "x" if k == 0 else "x%d" % (2 * k + 1)
    ya = "y" if k == 0 else "y%d" % (2 * k + 1)
    ya2 = "y%d" % (2 * k + 2)
    xname = "xaxis" if k == 0 else "xaxis%d" % (2 * k + 1)
    yname = "yaxis" if k == 0 else "yaxis%d" % (2 * k + 1)
    y2name = "yaxis%d" % (2 * k + 2)
    l, r, t, b = p["box"]

    for level, pts in zip(LEVELS, p["s"]):
        fig.add_trace(go.Scatter(
            x=[q[0] for q in pts], y=[q[1] for q in pts], xaxis=xa, yaxis=ya, mode="markers", cliponaxis=True,
            marker=dict(symbol="circle-open", size=5.5, color=[level] * len(pts), coloraxis="coloraxis",
                        opacity=0.8, line=dict(width=1.2)),
        ))
    for series in (p["up"], p["mid"], p["low"]):
        fig.add_trace(go.Scatter(
            x=p["t"], y=series, xaxis=xa, yaxis=ya, mode="lines+markers",
            line=dict(color="rgba(25,25,25,0.85)", width=1),
            marker=dict(symbol="asterisk-open", size=9, color="#111111", line=dict(width=1, color="#111111")),
        ))
    fig.add_trace(go.Scatter(
        x=p["kx"], y=p["ky"], xaxis=xa, yaxis=ya2, mode="lines",
        line=dict(color="#f4f4f4", width=1.8, shape="spline", smoothing=0.5),
    ))

    layout[xname] = dict(
        domain=[px(l), px(r)], range=p["xr"], anchor=ya, tickvals=p["t"], ticktext=[p["fmt"] % v for v in p["t"]],
        ticks="inside", ticklen=3, tickcolor="#444444", showgrid=False, zeroline=False,
        showline=True, linecolor="#666666", linewidth=1, ticklabelstandoff=8,
        tickfont=dict(family=SANS, size=TICK, color=DARK),
    )
    layout[yname] = dict(
        domain=[py(b), py(t)], range=[0.5, 5], anchor=xa, tickvals=[1, 2, 3, 4, 5],
        ticks="inside", ticklen=3, tickcolor="#444444", showgrid=False, zeroline=False,
        showline=True, linecolor="#666666", linewidth=1, ticklabelstandoff=5,
        tickfont=dict(family=SANS, size=TICK, color=DARK),
    )
    layout[y2name] = dict(
        domain=[py(b), py(t)], range=p["yr2"], anchor=xa, overlaying=ya, side="right",
        tickvals=p["y2t"], ticktext=[("%g" % v) for v in p["y2t"]],
        ticks="inside", ticklen=3, tickcolor="#777777", showgrid=False, zeroline=False,
        showline=True, linecolor="#888888", linewidth=1, ticklabelstandoff=4,
        tickfont=dict(family=SANS, size=TICK, color=GREY),
    )

fig.update_layout(**layout)


def note(text, x, y, size, color=DARK, family=SERIF, xanchor="center", angle=0):
    fig.add_annotation(text=text, x=px(x), y=py(y), xref="paper", yref="paper", showarrow=False,
                       xanchor=xanchor, yanchor="middle", textangle=angle,
                       font=dict(family=family, size=size, color=color))


note("<b>Daily Winter</b>", 321, 21, 19.5, "#111111", SANS)
note("<b>Monthly Winter</b>", 875, 21, 19.5, "#111111", SANS)
BETA = "<i>max</i>(<i>β</i>)"
SIGMA = "<i>max</i>(<i>σ</i>)"
KURT = "<i>max</i>(<i>kurt</i>)"
note(BETA, 60, 161, 35, "#111111")
note(BETA, 60, 549, 35, "#111111")
note(SIGMA, 386, 382, 35, "#111111")
note(SIGMA, 909, 382, 35, "#111111")
note(KURT, 385, 764, 35, "#111111")
note(KURT, 909, 765, 35, "#111111")
note("kde", 627, 177, 20, GREY, SANS, angle=-90)
note("kde", 1137, 177, 20, GREY, SANS, angle=-90)
note("kde", 616, 568, 20, GREY, SANS, angle=-90)
note("kde", 1137, 568, 20, GREY, SANS, angle=-90)
note("Π(<i>θ</i>)", 977, 817, 31, "#111111", xanchor="left")
note("<i>N L</i>", 1041, 832, 20, "#111111", xanchor="left")
fig.add_shape(type="line", xref="paper", yref="paper", x0=px(977), x1=px(1038), y0=py(801), y1=py(801),
              line=dict(color="#222222", width=1))

fig.write_html("out.html", config={"displayModeBar": False}, post_script="document.body.style.margin='0';")
